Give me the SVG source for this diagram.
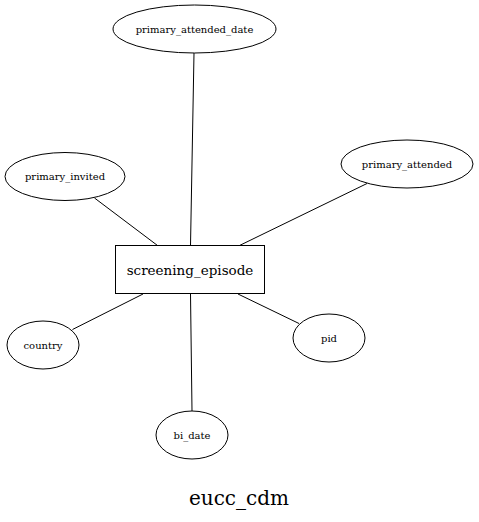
<svg xmlns="http://www.w3.org/2000/svg" width="479" height="522" viewBox="0 0 479 522">
<style>
.n ellipse,.n rect{fill:none;stroke:#000;stroke-width:1}
.e line{stroke:#000;stroke-width:1}
text{font-family:"DejaVu Serif","Liberation Serif",serif;fill:#000;text-anchor:middle}
.s{font-size:10px}
.m{font-size:13.5px}
.t{font-size:20px}
</style>
<rect width="479" height="522" fill="#fff"/>
<g id="edges" class="e">
<line x1="190.5" y1="245.5" x2="194" y2="53"/>
<line x1="157.5" y1="245.5" x2="94.5" y2="198"/>
<line x1="239.5" y1="245.5" x2="367" y2="183.5"/>
<line x1="143" y1="294" x2="72.5" y2="329.5"/>
<line x1="238" y1="294" x2="299" y2="323.5"/>
<line x1="190.5" y1="294" x2="192" y2="411"/>
</g>
<g id="screening_episode" class="n"><rect x="115.5" y="245.5" width="149" height="48"/><text class="m" x="190" y="274.5">screening_episode</text></g>
<g id="primary_attended_date" class="n"><ellipse cx="194.5" cy="29" rx="81.5" ry="24"/><text class="s" x="194.5" y="32.5">primary_attended_date</text></g>
<g id="primary_attended" class="n"><ellipse cx="407" cy="164" rx="66" ry="24"/><text class="s" x="407" y="167.5">primary_attended</text></g>
<g id="primary_invited" class="n"><ellipse cx="65" cy="176.5" rx="60" ry="24"/><text class="s" x="65" y="180">primary_invited</text></g>
<g id="country" class="n"><ellipse cx="43" cy="345" rx="36" ry="24"/><text class="s" x="43" y="348.5">country</text></g>
<g id="pid" class="n"><ellipse cx="329" cy="338" rx="36" ry="24"/><text class="s" x="329" y="341.5">pid</text></g>
<g id="bi_date" class="n"><ellipse cx="192" cy="435" rx="36" ry="24"/><text class="s" x="192" y="438.5">bi_date</text></g>
<text class="t" x="239" y="505">eucc_cdm</text>
</svg>
